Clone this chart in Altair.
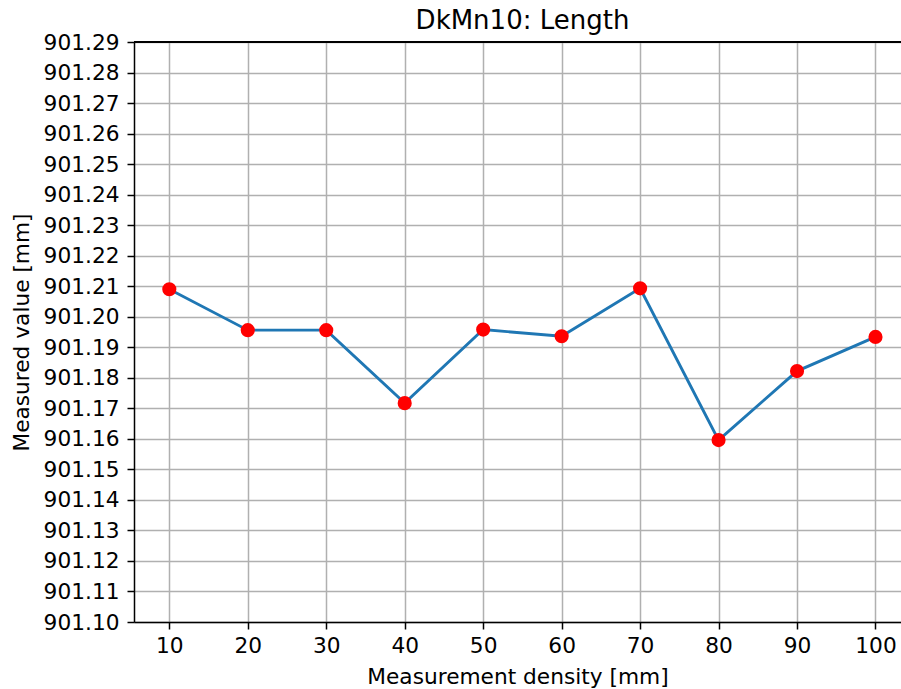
import altair as alt
import pandas as pd

density = [10, 20, 30, 40, 50, 60, 70, 80, 90, 100]
measured = [901.2090, 901.1956, 901.1956, 901.1717, 901.1958,
            901.1936, 901.2093, 901.1596, 901.1822, 901.1934]
y_ticks = [round(901.10 + 0.01 * i, 2) for i in range(20)]
x_ticks = density

df = pd.DataFrame({"density": density, "value": measured})

FONT = "DejaVu Sans"
W, H = 767, 580

x = alt.X("density:Q",
          scale=alt.Scale(domain=[5.5, 103.25], nice=False, zero=False),
          axis=alt.Axis(values=x_ticks, title="Measurement density [mm]",
                        format="d", labelFlush=False))
y = alt.Y("value:Q",
          scale=alt.Scale(domain=[901.10, 901.29], nice=False, zero=False),
          axis=alt.Axis(values=y_ticks, format=".2f", title="Measured value [mm]",
                        labelFlush=False))

line = alt.Chart(df).mark_line(color="#1f77b4", strokeWidth=2.9).encode(x=x, y=y)
pts = alt.Chart(df).mark_point(filled=True, color="#ff0000", size=200, opacity=1).encode(x=x, y=y)
top = alt.Chart(df).mark_rule(color="black", strokeWidth=1.5).encode(
    x=alt.value(0), x2=alt.value(W), y=alt.value(0))

chart = alt.layer(line, pts, top).properties(
    width=W, height=H,
    title=alt.TitleParams("DkMn10: Length", font=FONT, fontSize=26, fontWeight="normal",
                          color="black", anchor="middle", dx=5, dy=4, offset=2),
    autosize=alt.AutoSizeParams(type="none"),
    padding={"left": 134, "top": 42, "right": 0, "bottom": 67},
).configure_view(stroke=None).configure_axis(
    grid=True, gridColor="#b0b0b0", gridWidth=1.5, gridOpacity=1,
    domainColor="black", domainWidth=1.5, tickColor="black", tickWidth=1.5, tickSize=7,
    labelFont=FONT, labelFontSize=21.7, labelColor="black",
    titleFont=FONT, titleFontSize=21.7, titleFontWeight="normal", titleColor="black",
).configure_axisY(labelPadding=8, titlePadding=10).configure_axisX(
    labelPadding=6, titlePadding=10)

chart.save("out.html", embed_options={"renderer": "svg", "actions": False})
